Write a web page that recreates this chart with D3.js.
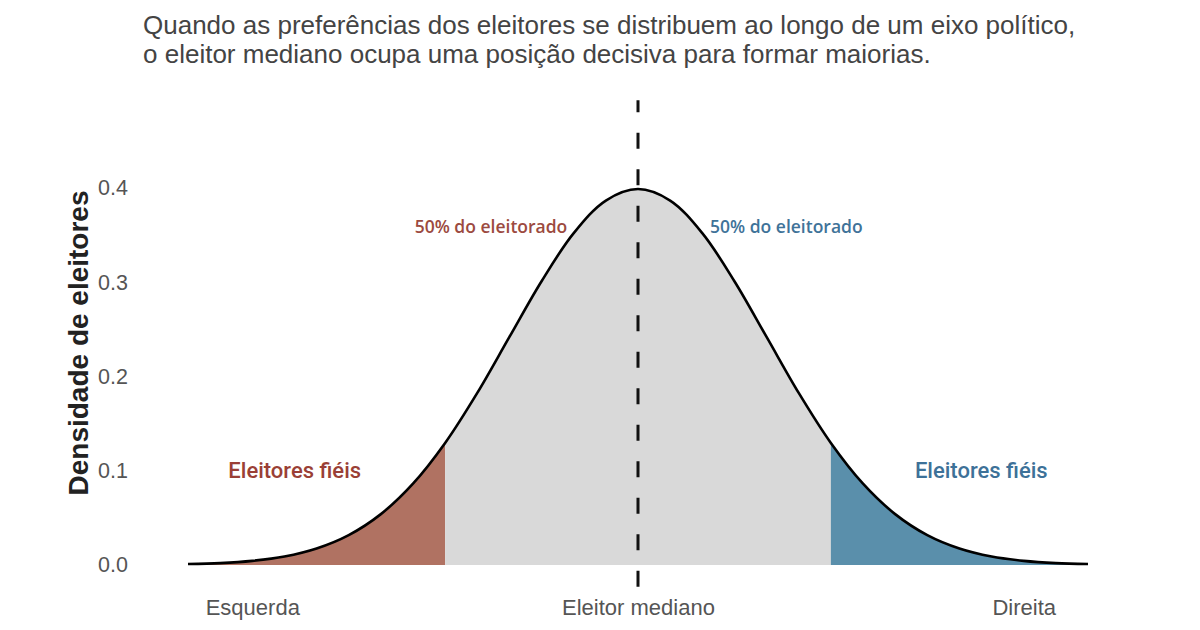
<!DOCTYPE html>
<html>
<head>
<meta charset="utf-8">
<script src="https://cdn.jsdelivr.net/npm/d3@7"></script>
<style>
  body { margin: 0; background: #fff; }
  text { font-family: "Liberation Sans", Arial, sans-serif; }
</style>
</head>
<body>
<div id="chart"></div>
<script>
// posicao no eixo politico (desvios) e densidade
const positions = [-3.5, -3.25, -3, -2.75, -2.5, -2.25, -2, -1.75, -1.5, -1.25, -1, -0.75, -0.5, -0.25,
                   0, 0.25, 0.5, 0.75, 1, 1.25, 1.5, 1.75, 2, 2.25, 2.5, 2.75, 3, 3.25, 3.5];
const density = [0.001, 0.002, 0.0044, 0.009, 0.0175, 0.0317, 0.054, 0.0863, 0.1295, 0.1826, 0.242, 0.3011, 0.3521, 0.3867,
                 0.3989, 0.3867, 0.3521, 0.3011, 0.242, 0.1826, 0.1295, 0.0863, 0.054, 0.0317, 0.0175, 0.009, 0.0044, 0.002, 0.001];

// limites das caudas (eleitores fieis)
const tailCut = [-1.5, 1.5];

// eixos
const xTicks = [-3, 0, 3];
const xTickLabels = ["Esquerda", "Eleitor mediano", "Direita"];
const yTicks = [0, 0.1, 0.2, 0.3, 0.4];

const titleLines = [
  "Quando as preferências dos eleitores se distribuem ao longo de um eixo político,",
  "o eleitor mediano ocupa uma posição decisiva para formar maiorias."
];

const W = 1200, H = 630;
const margin = {top: 188, right: 112, bottom: 65, left: 188};

const svg = d3.select("#chart").append("svg")
  .attr("width", W).attr("height", H);

const x = d3.scaleLinear().domain([-3.5, 3.5]).range([margin.left, W - margin.right]);
const y = d3.scaleLinear().domain([0, 0.4]).range([H - margin.bottom, margin.top]);

const pts = positions.map((p, i) => ({p: p, d: density[i]}));

//Title
svg.append("g").selectAll("text").data(titleLines).join("text")
  .attr("x", 143).attr("y", (d, i) => 34 + i * 29)
  .attr("font-size", 26).attr("fill", "#444")
  .text(d => d);

//Clip regions for the three parts of the area
const defs = svg.append("defs");
const parts = [
  {id: "clipL", from: -3.5, to: tailCut[0], fill: "#b07262"},
  {id: "clipM", from: tailCut[0], to: tailCut[1], fill: "#d9d9d9"},
  {id: "clipR", from: tailCut[1], to: 3.5, fill: "#5a8fab"}
];
parts.forEach(p => {
  defs.append("clipPath").attr("id", p.id).append("rect")
    .attr("x", x(p.from)).attr("y", 0)
    .attr("width", x(p.to) - x(p.from)).attr("height", H);
});

const area = d3.area()
  .x(d => x(d.p)).y0(y(0)).y1(d => y(d.d))
  .curve(d3.curveCatmullRom);

const line = d3.line()
  .x(d => x(d.p)).y(d => y(d.d))
  .curve(d3.curveCatmullRom);

parts.forEach(p => {
  svg.append("path").datum(pts)
    .attr("clip-path", `url(#${p.id})`)
    .attr("fill", p.fill)
    .attr("d", area);
});

//Median dashed line
svg.append("line")
  .attr("x1", x(0)).attr("x2", x(0))
  .attr("y1", y(-0.023)).attr("y2", y(0.493))
  .attr("stroke", "#111").attr("stroke-width", 3)
  .attr("stroke-dasharray", "16,20.5");

//Curve
svg.append("path").datum(pts)
  .attr("fill", "none").attr("stroke", "#000")
  .attr("stroke-width", 2.6).attr("d", line);

//Y axis
const yAxis = svg.append("g")
  .attr("transform", `translate(${x(-3.5)},0)`)
  .call(d3.axisLeft(y).tickValues(yTicks).tickFormat(d3.format(".1f")).tickSize(0).tickPadding(60));
yAxis.select(".domain").remove();
yAxis.selectAll("text").attr("font-size", 21.5).attr("fill", "#555")
  .style("font-family", "Liberation Sans, Arial, sans-serif");

//X axis
const xAxis = svg.append("g")
  .attr("transform", `translate(0,${y(0)})`)
  .call(d3.axisBottom(x).tickValues(xTicks).tickFormat((d, i) => xTickLabels[i]).tickSize(0).tickPadding(34));
xAxis.select(".domain").remove();
xAxis.selectAll("text").attr("font-size", 22).attr("fill", "#555")
  .style("font-family", "Liberation Sans, Arial, sans-serif");

//Y title
svg.append("text")
  .attr("transform", `translate(88,343) rotate(-90)`)
  .attr("text-anchor", "middle")
  .attr("font-size", 28).attr("font-weight", "bold").attr("fill", "#222")
  .text("Densidade de eleitores");

//Annotations
svg.append("text")
  .attr("x", x(-0.55)).attr("y", y(0.352))
  .attr("text-anchor", "end")
  .style("font-family", "Open Sans, sans-serif")
  .attr("font-size", 17.5).attr("font-weight", 600).attr("fill", "#9c4a40")
  .text("50% do eleitorado");
svg.append("text")
  .attr("x", x(0.56)).attr("y", y(0.352))
  .attr("text-anchor", "start")
  .style("font-family", "Open Sans, sans-serif")
  .attr("font-size", 17.5).attr("font-weight", 600).attr("fill", "#3f7399")
  .text("50% do eleitorado");

svg.append("text")
  .attr("x", x(-2.67)).attr("y", y(0.092))
  .attr("text-anchor", "middle")
  .style("font-family", "Roboto, sans-serif")
  .attr("font-size", 22).attr("font-weight", 500).attr("fill", "#9a3f36")
  .text("Eleitores fiéis");
svg.append("text")
  .attr("x", x(2.67)).attr("y", y(0.092))
  .attr("text-anchor", "middle")
  .style("font-family", "Roboto, sans-serif")
  .attr("font-size", 22).attr("font-weight", 500).attr("fill", "#3d7198")
  .text("Eleitores fiéis");
</script>
</body>
</html>
